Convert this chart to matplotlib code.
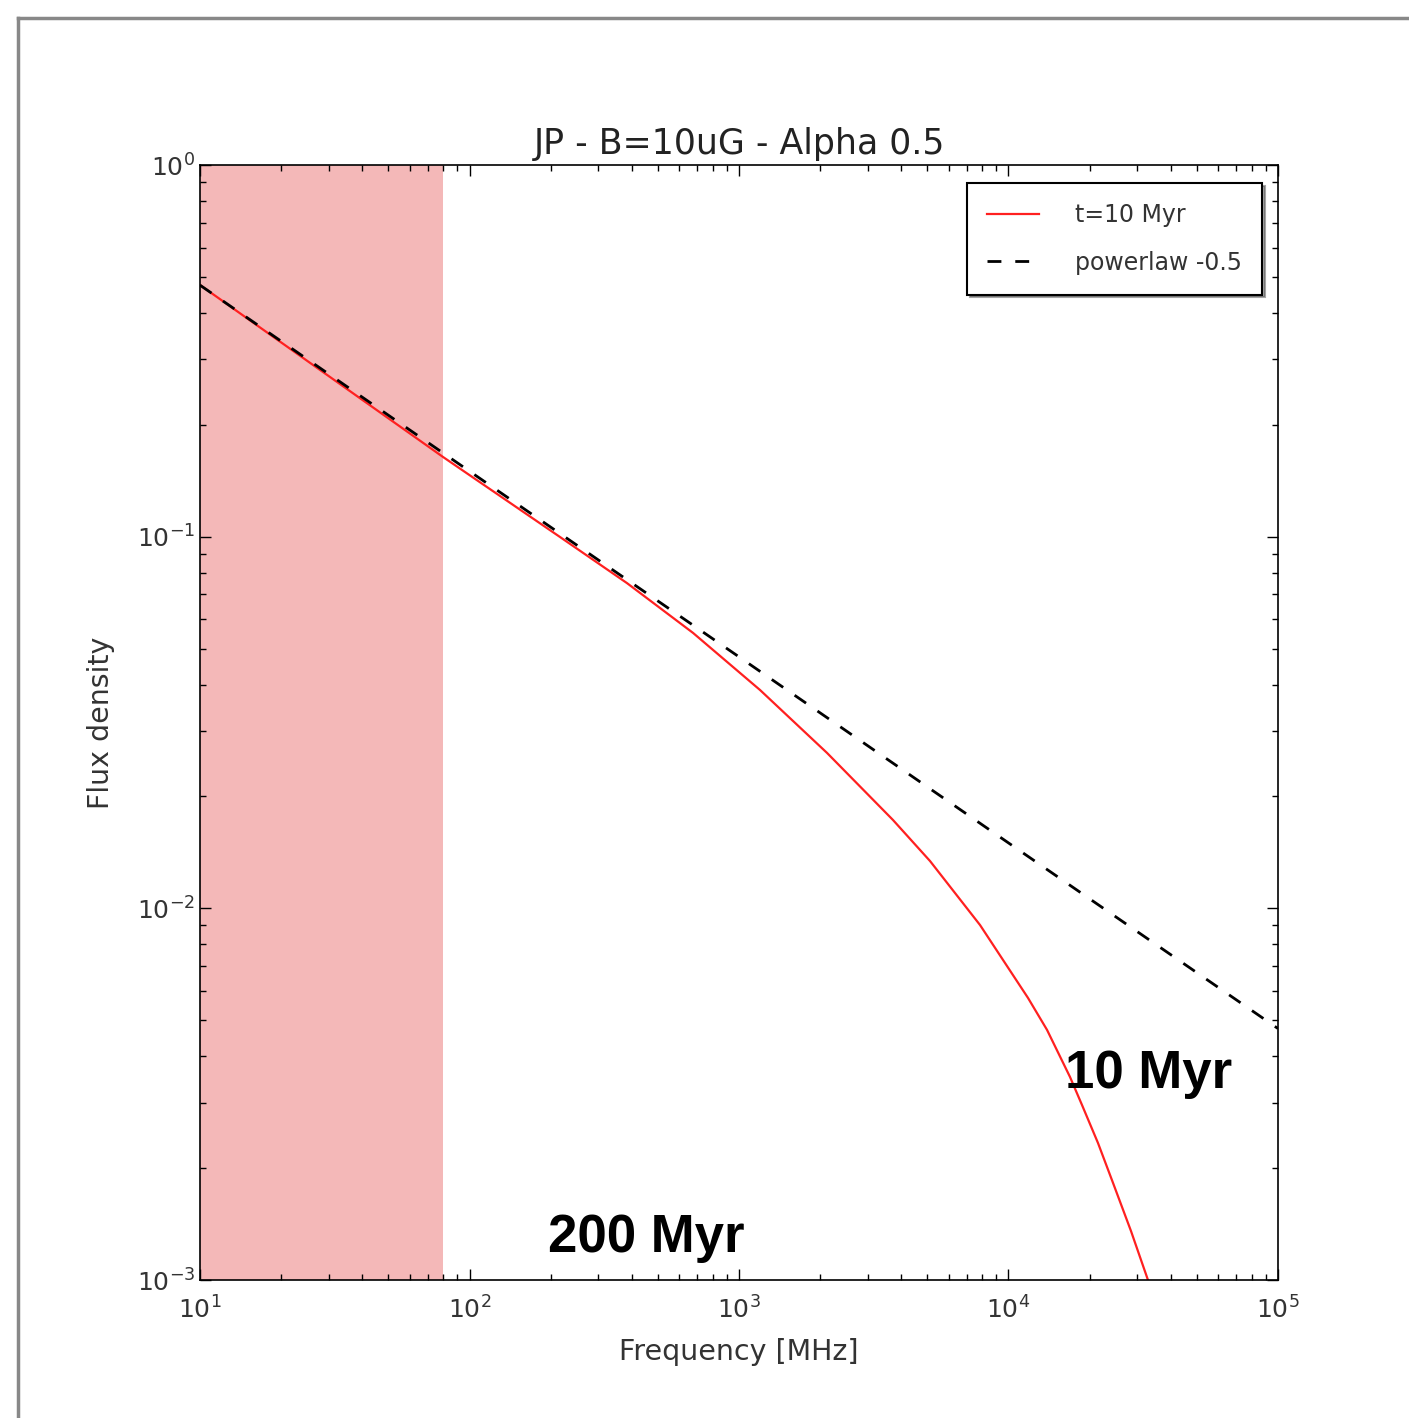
import numpy as np
import matplotlib
matplotlib.use("Agg")
import matplotlib.pyplot as plt
from matplotlib.lines import Line2D

# values
freq_jp = [10, 79.8, 216.7, 384.1, 675.1, 1196, 2121, 3727, 5114, 7839,
           11815, 13900, 16910, 18740, 21480, 24430, 28480, 32930]
flux_jp = [0.4755, 0.1638, 0.0998, 0.0750, 0.0551, 0.0387, 0.0262, 0.01729,
           0.01341, 0.009022, 0.005741, 0.00471, 0.00352, 0.002958, 0.002338,
           0.001825, 0.001355, 0.001]
freq_pl = [10, 100, 1000, 10000, 100000]
flux_pl = [0.475, 0.150, 0.0475, 0.0150, 0.00475]
band_lo, band_hi = 10, 80

fig = plt.figure(figsize=(14.09, 14.18), dpi=100)
ax = fig.add_axes([0.142, 0.0973, 0.765, 0.7863])

ax.axvspan(band_lo, band_hi, color="#f4b8b8", zorder=0, lw=0)
ax.plot(freq_jp, flux_jp, color="#ff2020", lw=1.6, label="t=10 Myr")
ax.plot(freq_pl, flux_pl, color="black", lw=2, ls=(0, (5, 5)), label="powerlaw -0.5")

ax.set_xscale("log")
ax.set_yscale("log")
ax.set_xlim(10, 1e5)
ax.set_ylim(1e-3, 1)
ax.tick_params(which="both", direction="in", top=True, right=True, labelsize=18,
               labelcolor="#333333")
ax.tick_params(which="major", length=8, width=1)
ax.tick_params(which="minor", length=4, width=1)
ax.tick_params(axis="x", pad=12)
for s in ax.spines.values():
    s.set_linewidth(1.2)

ax.set_title("JP - B=10uG - Alpha 0.5", fontsize=25, color="#222222", pad=8)
ax.set_xlabel("Frequency [MHz]", fontsize=20.5, color="#333333", labelpad=10)
ax.set_ylabel("Flux density", fontsize=20.5, color="#333333", labelpad=16)

leg = ax.legend(loc="upper right", fontsize=17, frameon=True, fancybox=False,
                shadow=True, borderpad=0.85, labelspacing=1.0, handlelength=2.2,
                handletextpad=1.5, borderaxespad=0, bbox_to_anchor=(0.985, 0.984))
leg.get_frame().set_edgecolor("black")
leg.get_frame().set_linewidth(1.5)
for t in leg.get_texts():
    t.set_color("#333333")

ax.text(1.62e4, 3.29e-3, "10 Myr", fontsize=38, fontweight="bold",
        family="Liberation Sans", ha="left", va="baseline")
ax.text(195, 1.19e-3, "200 Myr", fontsize=38, fontweight="bold",
        family="Liberation Sans", ha="left", va="baseline")

# grey frame on top and left edges
fig.add_artist(Line2D([18 / 1409, 1], [1 - 18 / 1418] * 2, color="#888888", lw=2.5))
fig.add_artist(Line2D([18 / 1409] * 2, [0, 1 - 18 / 1418], color="#888888", lw=2.5))

fig.savefig("out.png", dpi=100)
